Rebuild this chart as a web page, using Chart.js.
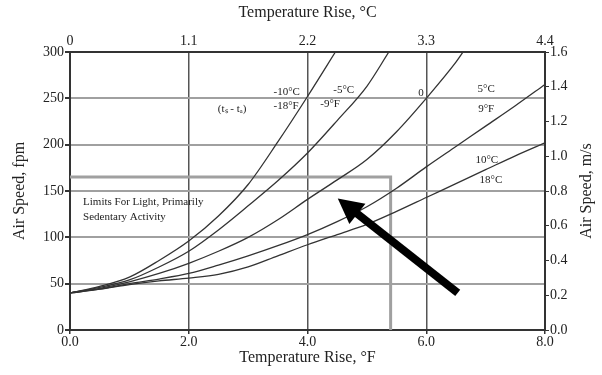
<!DOCTYPE html>
<html>
<head>
<meta charset="utf-8">
<script src="https://cdn.jsdelivr.net/npm/chart.js@4.4.1/dist/chart.umd.min.js"></script>
<style>
  body { margin: 0; background: #fff; }
  #wrap { width: 602px; height: 375px; }
</style>
</head>
<body>
<div id="wrap"><canvas id="airChart" width="602" height="375"></canvas></div>
<script>
// temperature rise (F) vs air speed (fpm), one pair of arrays per curve
const riseM10 = [0, 0.5, 1, 1.5, 2, 2.5, 3, 3.5, 4, 4.47];
const speedM10 = [40, 47, 57, 75, 96, 123, 157, 203, 252, 300];
const riseM5 = [0, 0.5, 1, 1.5, 2, 2.5, 3, 3.5, 4, 4.5, 5, 5.37];
const speedM5 = [40, 46, 54, 68, 85, 108, 134, 161, 191, 226, 263, 300];
const rise0 = [0, 0.5, 1, 1.5, 2, 2.5, 3, 3.5, 4, 4.5, 5, 5.5, 6, 6.5, 6.62];
const speed0 = [40, 45, 52, 61, 72, 85, 100, 119, 141, 162, 184, 214, 250, 289, 300];
const riseP5 = [0, 0.5, 1, 1.5, 2, 2.5, 3, 3.5, 4, 4.5, 5, 5.5, 6, 6.5, 7, 7.5, 8];
const speedP5 = [40, 44, 50, 55, 61, 70, 80, 91, 103, 117, 133, 153, 176, 198, 220, 242, 265];
const riseP10 = [0, 0.5, 1, 1.5, 2, 2.5, 3, 3.5, 4, 4.5, 5, 5.5, 6, 6.5, 7, 7.5, 8];
const speedP10 = [40, 44, 49, 53, 56, 60, 68, 80, 92, 103, 114, 128, 143, 158, 173, 188, 202];

// limits for light, primarily sedentary activity
const limitRise = [0, 5.4, 5.4];
const limitSpeed = [165, 165, 0];

// arrow pointing into the comfort box (tip, tail)
const arrowRise = [4.51, 6.53];
const arrowSpeed = [142, 40];

const serif = 'Liberation Serif';
const ink = '#222';

function toPoints(xs, ys) {
    return xs.map((x, i) => ({ x: x, y: ys[i] }));
}

function curve(xs, ys) {
    return {
        data: toPoints(xs, ys),
        borderColor: '#333',
        borderWidth: 1.3,
        pointRadius: 0,
        cubicInterpolationMode: 'monotone',
        fill: false
    };
}

// text placed on the plot, in chart units
const notes = [
    { text: '(tₛ - tₐ)', x: 2.73, y: 238, align: 'center' },
    { text: '-10°C', x: 3.65, y: 257, align: 'center' },
    { text: '-18°F', x: 3.64, y: 242, align: 'center' },
    { text: '-5°C', x: 4.61, y: 259, align: 'center' },
    { text: '-9°F', x: 4.38, y: 244, align: 'center' },
    { text: '0', x: 5.91, y: 256, align: 'center' },
    { text: '5°C', x: 7.01, y: 260, align: 'center' },
    { text: '9°F', x: 7.01, y: 238, align: 'center' },
    { text: '10°C', x: 7.02, y: 183, align: 'center' },
    { text: '18°C', x: 7.09, y: 162, align: 'center' },
    { text: 'Limits For Light, Primarily', x: 0.22, y: 138, align: 'left' },
    { text: 'Sedentary Activity', x: 0.22, y: 122, align: 'left' }
];

const notesPlugin = {
    id: 'notes',
    afterDatasetsDraw(chart) {
        const ctx = chart.ctx;
        const xs = chart.scales.x;
        const ys = chart.scales.y;
        ctx.save();
        ctx.fillStyle = ink;
        ctx.font = '11px "' + serif + '"';
        ctx.textBaseline = 'middle';
        notes.forEach(n => {
            ctx.textAlign = n.align;
            ctx.fillText(n.text, xs.getPixelForValue(n.x), ys.getPixelForValue(n.y));
        });

        // arrow
        const tipX = xs.getPixelForValue(arrowRise[0]);
        const tipY = ys.getPixelForValue(arrowSpeed[0]);
        const tailX = xs.getPixelForValue(arrowRise[1]);
        const tailY = ys.getPixelForValue(arrowSpeed[1]);
        const len = Math.hypot(tailX - tipX, tailY - tipY);
        const ux = (tailX - tipX) / len;
        const uy = (tailY - tipY) / len;
        const headLen = 25;
        const headHalf = 13;
        const bx = tipX + ux * headLen;
        const by = tipY + uy * headLen;
        ctx.strokeStyle = '#000';
        ctx.fillStyle = '#000';
        ctx.lineWidth = 8;
        ctx.lineCap = 'butt';
        ctx.beginPath();
        ctx.moveTo(bx - ux * 2, by - uy * 2);
        ctx.lineTo(tailX, tailY);
        ctx.stroke();
        ctx.beginPath();
        ctx.moveTo(tipX, tipY);
        ctx.lineTo(bx - uy * headHalf, by + ux * headHalf);
        ctx.lineTo(bx + uy * headHalf, by - ux * headHalf);
        ctx.closePath();
        ctx.fill();

        // right axis title, reading bottom to top like the left one
        const y2 = chart.scales.y2;
        ctx.fillStyle = ink;
        ctx.font = '16px "' + serif + '"';
        ctx.translate(587, (y2.top + y2.bottom) / 2);
        ctx.rotate(-Math.PI / 2);
        ctx.textAlign = 'center';
        ctx.fillText('Air Speed, m/s', 0, 0);
        ctx.restore();
    }
};

const tickFont = { family: serif, size: 14 };
const titleFont = { family: serif, size: 16 };
const frame = { color: '#333', width: 2 };

new Chart(document.getElementById('airChart'), {
    type: 'line',
    data: {
        datasets: [
            curve(riseM10, speedM10),
            curve(riseM5, speedM5),
            curve(rise0, speed0),
            curve(riseP5, speedP5),
            curve(riseP10, speedP10),
            {
                data: toPoints(limitRise, limitSpeed),
                borderColor: '#a0a0a0',
                borderWidth: 3,
                pointRadius: 0,
                tension: 0,
                fill: false
            }
        ]
    },
    options: {
        responsive: false,
        animation: false,
        layout: { padding: 0 },
        plugins: {
            legend: { display: false },
            tooltip: { enabled: false }
        },
        scales: {
            x: {
                type: 'linear',
                position: 'bottom',
                min: 0,
                max: 8,
                ticks: {
                    stepSize: 2,
                    font: tickFont,
                    color: ink,
                    padding: 0,
                    callback: v => v.toFixed(1)
                },
                grid: { color: '#555', lineWidth: 1.5, tickLength: 4, tickColor: '#333' },
                border: frame,
                title: { display: true, text: 'Temperature Rise, °F', font: titleFont, color: ink, padding: { top: 0, bottom: 8 } },
                afterFit: s => { s.height = 45; }
            },
            x2: {
                type: 'linear',
                position: 'top',
                min: 0,
                max: 4.4,
                ticks: {
                    stepSize: 1.1,
                    font: tickFont,
                    color: ink,
                    padding: 2,
                    callback: v => v === 0 ? '0' : v.toFixed(1)
                },
                grid: { drawOnChartArea: false, drawTicks: false },
                border: frame,
                title: { display: true, text: 'Temperature Rise, °C', font: titleFont, color: ink, padding: { top: 3, bottom: 0 } },
                afterFit: s => { s.height = 52; }
            },
            y: {
                position: 'left',
                min: 0,
                max: 300,
                ticks: { stepSize: 50, font: tickFont, color: ink, padding: 1 },
                grid: {
                    color: c => (c.tick && (c.tick.value === 0 || c.tick.value === 300)) ? '#333' : '#a0a0a0',
                    lineWidth: 2,
                    tickLength: 5,
                    tickColor: '#333'
                },
                border: frame,
                title: { display: true, text: 'Air Speed, fpm', font: titleFont, color: ink, padding: { top: 10, bottom: 0 } },
                afterFit: s => { s.width = 70; }
            },
            y2: {
                position: 'right',
                min: 0,
                max: 1.6,
                ticks: { stepSize: 0.2, font: tickFont, color: ink, padding: 1, callback: v => v.toFixed(1) },
                grid: { drawOnChartArea: false, tickLength: 4, tickColor: '#333' },
                border: frame,
                afterFit: s => { s.width = 57; }
            }
        }
    },
    plugins: [notesPlugin]
});
</script>
</body>
</html>
